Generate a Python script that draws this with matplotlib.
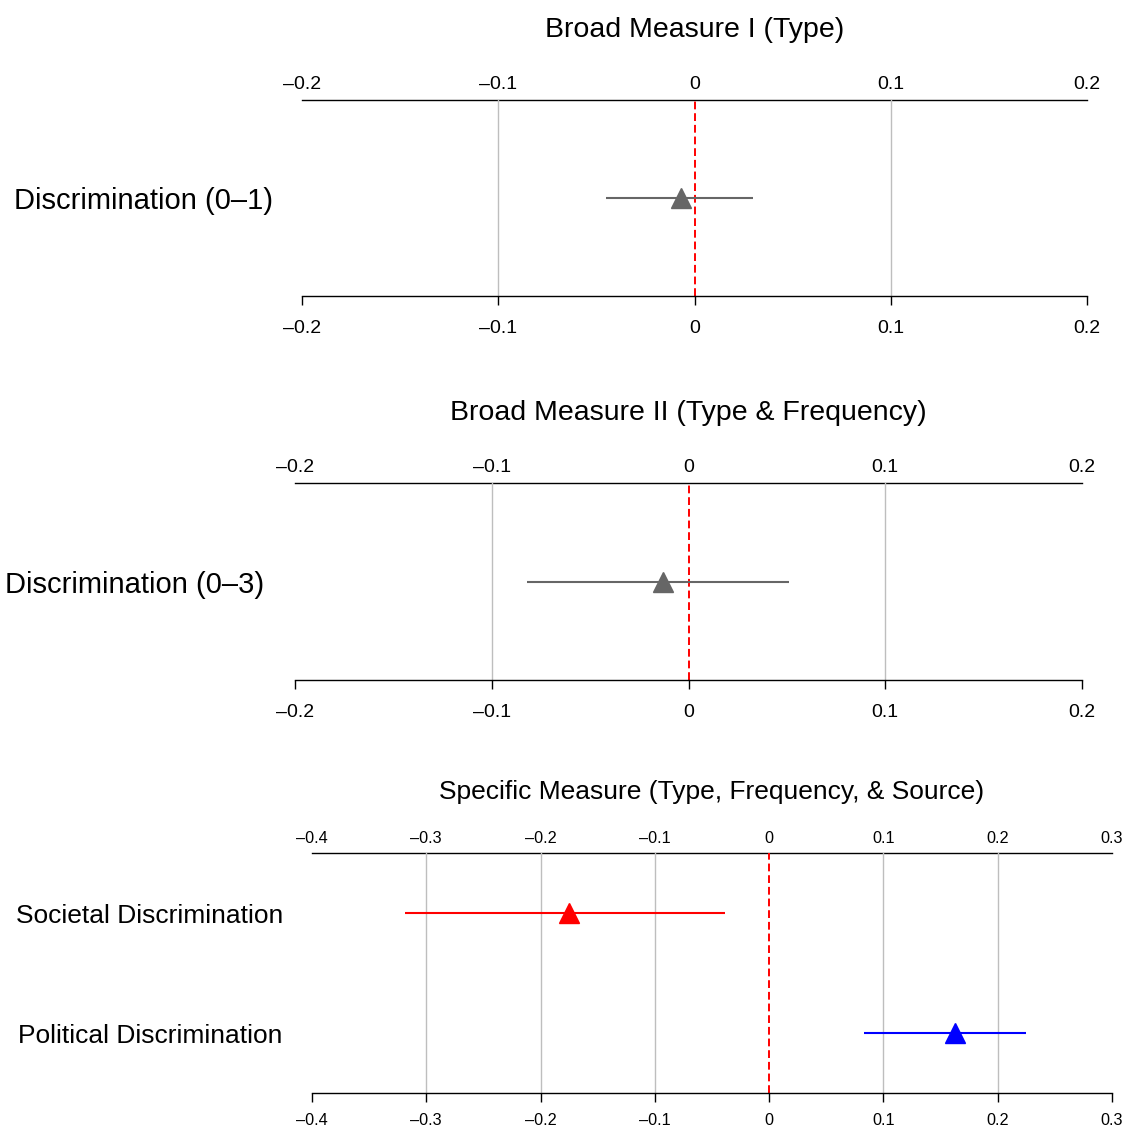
import matplotlib
matplotlib.use('Agg')
import matplotlib.pyplot as plt
import matplotlib.transforms as mtransforms

plt.rcParams['font.family'] = ['Liberation Sans', 'DejaVu Sans']

# Broad measure I (type)
p1_labels = ["Discrimination (0\u20131)"]
p1_est = [-0.007]
p1_lo = [-0.045]
p1_hi = [0.030]
p1_ticks = [-0.2, -0.1, 0.0, 0.1, 0.2]
p1_ticklabels = ["\u20130.2", "\u20130.1", "0", "0.1", "0.2"]

# Broad measure II (type & frequency)
p2_labels = ["Discrimination (0\u20133)"]
p2_est = [-0.013]
p2_lo = [-0.082]
p2_hi = [0.051]
p2_ticks = [-0.2, -0.1, 0.0, 0.1, 0.2]
p2_ticklabels = ["\u20130.2", "\u20130.1", "0", "0.1", "0.2"]

# Specific measure (type, frequency, source)
p3_labels = ["Societal Discrimination", "Political Discrimination"]
p3_est = [-0.175, 0.163]
p3_lo = [-0.3185, 0.083]
p3_hi = [-0.0385, 0.225]
p3_ticks = [-0.4, -0.3, -0.2, -0.1, 0.0, 0.1, 0.2, 0.3]
p3_ticklabels = ["\u20130.4", "\u20130.3", "\u20130.2", "\u20130.1", "0", "0.1", "0.2", "0.3"]

W, H = 1129, 1130
fig = plt.figure(figsize=(W / 100, H / 100), dpi=100)


def add_axes_px(left, top, right, bottom):
    return fig.add_axes([left / W, 1 - bottom / H, (right - left) / W, (bottom - top) / H])


def draw_panel(ax, title, labels, est, lo, hi, colors, ticks, ticklabels,
               label_x, fs_label, fs_title, fs_tick, title_off, bottom_pad, top_pad):
    n = len(labels)
    ypos = list(range(1, n + 1))
    ax.set_xlim(ticks[0], ticks[-1])
    ax.set_ylim(n + 0.5, 0.5)

    for t in ticks[1:-1]:
        if t != 0:
            ax.axvline(t, color='#bebebe', lw=1.0, zorder=1)
    ax.axvline(0, color='red', lw=1.4, ls=(0, (4, 2)), zorder=2)

    for y, e, l, h, c in zip(ypos, est, lo, hi, colors):
        ax.plot([l, h], [y, y], color=c, lw=1.5, zorder=3, solid_capstyle='butt')
        ax.plot([e], [y], marker='^', ms=15, color=c, ls='none', zorder=4)

    for side in ['left', 'right', 'top']:
        ax.spines[side].set_visible(False)
    ax.spines['bottom'].set_linewidth(1.0)
    ax.set_yticks([])
    ax.set_xticks(ticks)
    ax.set_xticklabels(ticklabels, fontsize=fs_tick)
    ax.tick_params(axis='x', length=6.5, width=1.0, pad=bottom_pad)

    sec = ax.secondary_xaxis('top')
    sec.set_xticks(ticks)
    sec.set_xticklabels(ticklabels, fontsize=fs_tick)
    sec.tick_params(length=0, pad=top_pad)
    sec.spines['top'].set_linewidth(1.0)

    trans = mtransforms.blended_transform_factory(fig.transFigure, ax.transData)
    trans = trans + mtransforms.ScaledTranslation(0, -2.5 / 72, fig.dpi_scale_trans)
    for y, lab in zip(ypos, labels):
        ax.text(label_x / W, y, lab, transform=trans, ha='center', va='center',
                fontsize=fs_label)

    ax.annotate(title, xy=(0.5, 1), xycoords='axes fraction', xytext=(0, title_off),
                textcoords='offset points', ha='center', va='center', fontsize=fs_title)


ax1 = add_axes_px(302, 100, 1087, 296)
draw_panel(ax1, "Broad Measure I (Type)", p1_labels, p1_est, p1_lo, p1_hi,
           ['#666666'], p1_ticks, p1_ticklabels, 143, 21, 20.5, 14, 50.5, 10.5, 5)

ax2 = add_axes_px(295, 483, 1082, 680)
draw_panel(ax2, "Broad Measure II (Type & Frequency)", p2_labels, p2_est, p2_lo, p2_hi,
           ['#666666'], p2_ticks, p2_ticklabels, 134.5, 21, 20.5, 14, 50.5, 10.5, 5)

ax3 = add_axes_px(312, 853, 1112, 1093)
draw_panel(ax3, "Specific Measure (Type, Frequency, & Source)", p3_labels, p3_est, p3_lo, p3_hi,
           ['#ff0000', '#0000ff'], p3_ticks, p3_ticklabels, 150, 19, 19, 11.7, 44, 8, 5)

fig.savefig('out.png', dpi=100)
